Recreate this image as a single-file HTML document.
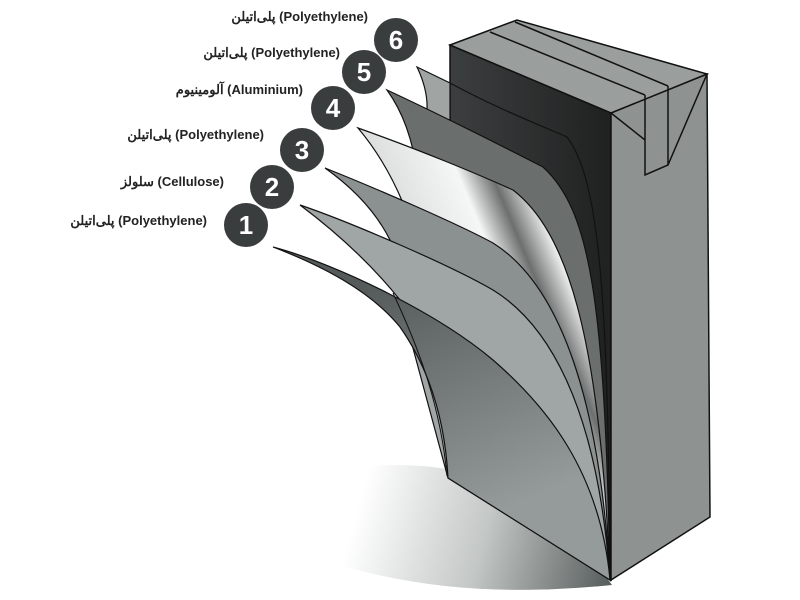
<!DOCTYPE html>
<html><head><meta charset="utf-8"><style>
html,body{margin:0;padding:0;background:#fff;width:800px;height:600px;overflow:hidden}
svg{position:absolute;left:0;top:0}
.l{font-family:"Liberation Sans","Noto Sans CJK SC",sans-serif;font-weight:bold;font-size:13px;fill:#222}
.n{font-family:"Liberation Sans",sans-serif;font-weight:bold;font-size:26px;fill:#fff}
</style></head><body>
<svg width="800" height="600" viewBox="0 0 800 600">
<defs>
<linearGradient id="sh" gradientUnits="userSpaceOnUse" x1="360" y1="500" x2="610" y2="570"><stop offset="0" stop-color="#fff"/><stop offset="0.5" stop-color="#c3c7c6"/><stop offset="1" stop-color="#5a605f"/></linearGradient>
<linearGradient id="al" gradientUnits="userSpaceOnUse" x1="420" y1="270" x2="610" y2="190"><stop offset="0" stop-color="#dcdedd"/><stop offset="0.35" stop-color="#f5f6f6"/><stop offset="0.5" stop-color="#6b6f6e"/><stop offset="0.65" stop-color="#eeefef"/><stop offset="1" stop-color="#b8bcbb"/></linearGradient>
<linearGradient id="s1" gradientUnits="userSpaceOnUse" x1="380" y1="280" x2="480" y2="520"><stop offset="0" stop-color="#555b5a"/><stop offset="1" stop-color="#959b9a"/></linearGradient>
<linearGradient id="dk" x1="0" y1="0" x2="1" y2="0"><stop offset="0" stop-color="#3c3f3f"/><stop offset="1" stop-color="#1f2121"/></linearGradient>
</defs>
<path d="M340,470 C440,455 530,470 612,585 C520,594 430,592 340,565 Z" fill="url(#sh)"/>
<!-- box -->
<polygon points="450,45 611,113 611,580 450,470" fill="url(#dk)" stroke="#111" stroke-width="1.5"/>
<polygon points="611,113 707,74 710,517 611,580" fill="#8e9392" stroke="#111" stroke-width="1.5"/>
<polygon points="450,45 517,20 707,74 611,113" fill="#9a9f9e" stroke="#111" stroke-width="1.5"/>
<path d="M490,32 L645,95 M515,22 L668,86 M645,95 L645,175 L668,165 L668,86 M611,113 L645,140 M707,74 L668,165" fill="none" stroke="#111" stroke-width="1.5"/>
<!-- sheet 6 -->
<path d="M417,67 L450,83 L450,200 L427,110 Q428,90 417,67 Z" fill="#a0a5a4" stroke="#111" stroke-width="1.2"/>
<path d="M450,83 C500,110 540,125 567,137 C600,180 608,300 610,580" fill="none" stroke="#111" stroke-width="1.2"/>
<!-- sheet 5 -->
<path d="M387,90 C430,110 500,145 543,167 C590,210 605,300 610,580 L470,400 L413,150 Q405,115 387,90 Z" fill="#6a6f6e" stroke="#111" stroke-width="1.2"/>
<!-- sheet 4 -->
<path d="M358,128 C420,150 480,175 513,190 C565,230 600,330 610,580 L450,420 L403,203 Q385,160 358,128 Z" fill="url(#al)" stroke="#111" stroke-width="1.2"/>
<!-- sheet 3 -->
<path d="M325,168 C380,190 460,225 493,243 C560,285 600,400 610,580 L450,420 L390,240 Q370,200 325,168 Z" fill="#8b9190" stroke="#111" stroke-width="1.2"/>
<!-- sheet 2 -->
<path d="M300,205 C350,222 450,265 493,290 C545,322 597,400 610,580 L448,478 L400,300 Q360,250 300,205 Z" fill="#a0a6a5" stroke="#111" stroke-width="1.2"/>
<!-- sheet 1 -->
<path d="M273,247 C340,265 440,315 493,360 C545,405 600,470 610,580 L448,478 C445,420 430,370 400,327 C370,290 320,265 273,247 Z" fill="url(#s1)" stroke="#111" stroke-width="1.2"/>
<path d="M393,293 C415,340 440,400 447,476" fill="none" stroke="#111" stroke-width="1"/>
<!-- circles -->
<g fill="#3a3d3d">
<circle cx="246" cy="225" r="22"/><circle cx="272" cy="187" r="22"/><circle cx="302" cy="150" r="22"/>
<circle cx="333" cy="108" r="22"/><circle cx="364" cy="72" r="22"/><circle cx="396" cy="40" r="22"/>
</g>
<g class="n" text-anchor="middle">
<text x="246" y="234">1</text><text x="272" y="196">2</text><text x="302" y="159">3</text>
<text x="333" y="117">4</text><text x="364" y="81">5</text><text x="396" y="49">6</text>
</g>
<g class="l" text-anchor="end" direction="ltr">
<text x="368" y="21">پلی‌اتیلن (Polyethylene)</text>
<text x="340" y="57">پلی‌اتیلن (Polyethylene)</text>
<text x="303" y="94">آلومینیوم (Aluminium)</text>
<text x="264" y="139">پلی‌اتیلن (Polyethylene)</text>
<text x="224" y="186">سلولز (Cellulose)</text>
<text x="207" y="225">پلی‌اتیلن (Polyethylene)</text>
</g>
</svg>
</body></html>
